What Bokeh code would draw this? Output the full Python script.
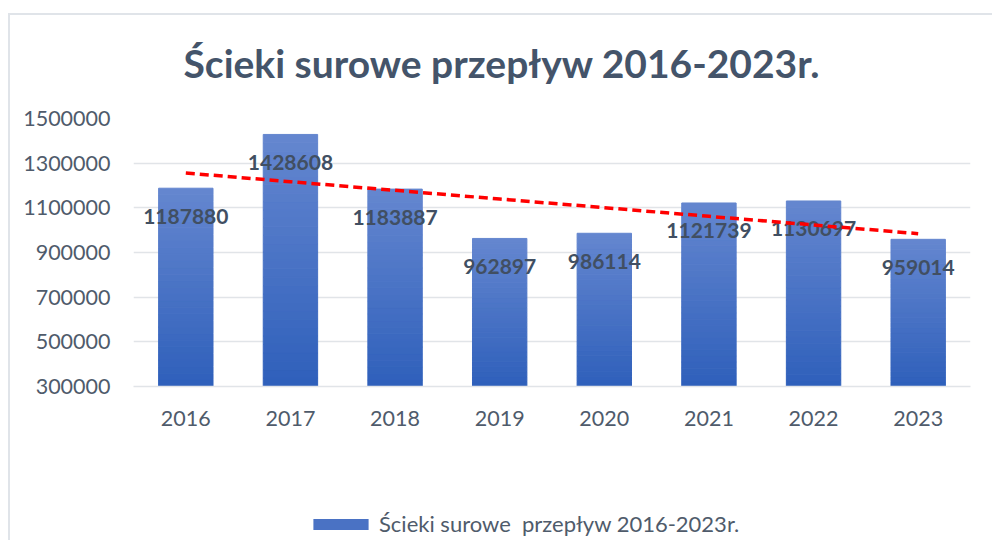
import numpy as np
from bokeh.plotting import figure
from bokeh.layouts import column
from bokeh.models import (ColumnDataSource, Range1d, FactorRange, FixedTicker,
                          BasicTickFormatter, Legend, LegendItem, Label)
from bokeh.core.properties import value
from bokeh.embed import file_html
from bokeh.resources import INLINE

# ---- data ----
years = ["2016", "2017", "2018", "2019", "2020", "2021", "2022", "2023"]
flows = [1187880, 1428608, 1183887, 962897, 986114, 1121739, 1130697, 959014]
y_ticks = [300000, 500000, 700000, 900000, 1100000, 1300000, 1500000]
title_text = "Ścieki surowe  przepływ 2016-2023r."
series_name = "Ścieki surowe  przepływ 2016-2023r."

Y_MIN, Y_MAX = 300000, 1500000
FONT = "Lato"
TXT = "#4f5b6b"
W = 982


def blank_strip(h):
    f = figure(x_range=FactorRange(*years), y_range=Range1d(0, 1),
               width=W, height=h, output_backend="svg", toolbar_location=None,
               x_axis_location=None, y_axis_location=None,
               min_border=0, outline_line_color=None,
               background_fill_color="white", border_fill_color="white")
    f.grid.visible = False
    return f


# ---- title strip ----
p0 = blank_strip(80)
p0.add_layout(Label(x=50, y=33, x_units="screen", y_units="screen",
                    text=title_text, text_align="left", text_baseline="middle",
                    text_font=FONT, text_font_size="39px", text_font_style="bold",
                    text_color="#44546a"))

# ---- main chart ----
p = figure(x_range=FactorRange(*years), y_range=Range1d(Y_MIN, Y_MAX),
           width=W, height=379,
           output_backend="svg", toolbar_location=None,
           min_border_left=123, min_border_right=22,
           min_border_top=23, min_border_bottom=88,
           background_fill_color="white", border_fill_color="white",
           outline_line_color=None)

# gradient bars (strips computed from the values)
N = 30
c_bot = np.array([0x2f, 0x60, 0xbb])
c_top = np.array([0x65, 0x87, 0xd0])
xs, bots, tops, cols = [], [], [], []
for yr, v in zip(years, flows):
    edges = np.linspace(Y_MIN, v, N + 1)
    for i in range(N):
        t = (i + 0.5) / N
        c = (c_bot + (c_top - c_bot) * t).astype(int)
        xs.append(yr)
        bots.append(edges[i])
        tops.append(edges[i + 1])
        cols.append("#%02x%02x%02x" % tuple(c))
src = ColumnDataSource(dict(x=xs, bottom=bots, top=tops, color=cols))
bars = p.vbar(x="x", bottom="bottom", top="top", width=0.52, source=src,
              fill_color="color", line_color="color", line_width=1)

# value labels
lab_src = ColumnDataSource(dict(x=years, y=flows, t=[str(v) for v in flows]))
p.text(x="x", y="y", text="t", source=lab_src, y_offset=28,
       text_align="center", text_baseline="middle",
       text_font=value(FONT), text_font_size="21px", text_font_style="bold",
       text_color="#414f62")

# linear trend line
xi = np.arange(len(flows))
k, b = np.polyfit(xi, np.array(flows, dtype=float), 1)
trend = k * xi + b
p.line(x=years, y=list(trend), line_color="#ff0000", line_width=3.5, line_dash="9 5")

# axes / grid
p.xgrid.grid_line_color = None
p.ygrid.grid_line_color = "#e1e4e8"
p.ygrid.grid_line_width = 1.5
p.yaxis.ticker = FixedTicker(ticks=y_ticks)
p.yaxis.formatter = BasicTickFormatter(use_scientific=False)
p.yaxis.axis_line_color = None
p.xaxis.axis_line_color = "#e1e4e8"
p.xaxis.axis_line_width = 1.5
for ax in (p.xaxis, p.yaxis):
    ax.major_tick_line_color = None
    ax.minor_tick_line_color = None
    ax.major_label_text_font = FONT
    ax.major_label_text_font_size = "21.5px"
    ax.major_label_text_color = TXT
p.yaxis.major_label_standoff = 17
p.xaxis.major_label_standoff = 18

# ---- legend strip ----
p2 = blank_strip(66)
# legend proxy: zero-width bar outside the strip's visible range (draws nothing)
proxy_src = ColumnDataSource(dict(x=[years[0]], bottom=[50], top=[60]))
proxy = p2.vbar(x="x", bottom="bottom", top="top", width=0, source=proxy_src,
                fill_color="#4a72c4", line_color=None)
legend = Legend(items=[LegendItem(label=series_name, renderers=[proxy])],
                location=(173, 3), orientation="horizontal",
                glyph_width=69, glyph_height=14, label_standoff=4,
                padding=0, margin=0, border_line_color=None,
                background_fill_alpha=0,
                label_text_font=FONT, label_text_font_size="22px",
                label_text_color=TXT)
p2.add_layout(legend, "center")

layout = column(p0, p, p2, spacing=0,
                styles={"margin-top": "13px", "margin-left": "8px",
                        "border-left": "2px solid #e0e4e9",
                        "border-top": "2px solid #e0e4e9"})

open("out.html", "w").write(file_html(layout, INLINE))
